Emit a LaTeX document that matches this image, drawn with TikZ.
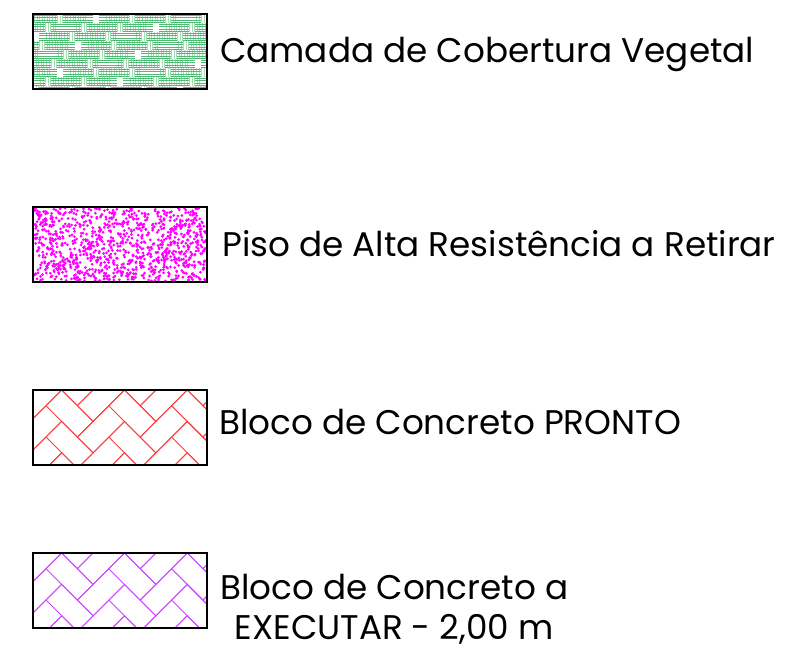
\documentclass[tikz,border=0pt]{standalone}
\usepackage{fontspec}
\setmainfont{Poppins}
\usepackage{xcolor}

\definecolor{hatchgreen}{RGB}{80,185,115}
\definecolor{hatchlight}{RGB}{165,222,180}
\definecolor{dotpink}{RGB}{255,0,255}
\definecolor{brickred}{RGB}{255,60,60}
\definecolor{brickviolet}{RGB}{205,70,255}

% herringbone fill of one legend box, #1 = top edge, #2 = colour
\newcommand{\brickfill}[2]{%
  \begin{scope}
    \clip (33,#1) rectangle (207,#1+75);
    \begin{scope}[shift={(61.7,#1)}, rotate=-45, scale=22.2]
      \foreach \i in {-9,...,9}
        \foreach \j in {-5,...,5}
          \draw[brick, #2] (\i+2*\j,\i-2*\j) rectangle ++(2,1)
                           (\i+2*\j,\i-2*\j+1) rectangle ++(1,2);
    \end{scope}
  \end{scope}}

\begin{document}
\begin{tikzpicture}[x=1pt, y=-1pt,
    frame/.style={line width=2},
    brick/.style={line width=0.9},
    legendtext/.style={font=\fontsize{34.2}{40}\selectfont, inner sep=0}]
	\useasboundingbox (0,0) rectangle (796,651);

	% vegetal cover: woven hatch
	\begin{scope}
		\clip (33,14) rectangle (207,89);
		\foreach \r in {0,...,8}
			\foreach \c in {0,...,12} {
				\pgfmathsetmacro\xo{33+(\c-2)*18+mod(\r,3)*6}
				\pgfmathsetmacro\yo{14+\r*9}
				\pgfmathtruncatemacro\gap{mod(2*\r+\c,5)}
				\ifnum\gap>0
					\foreach \k in {1.5,4,...,16.5}
						\draw[hatchlight, line width=0.8] (\xo+\k,\yo) -- (\xo+\k,\yo+9);
				\fi
			}
		\foreach \r in {0,...,8}
			\foreach \c in {0,...,12} {
				\pgfmathsetmacro\xo{33+(\c-2)*18+mod(\r,3)*6}
				\pgfmathsetmacro\yo{14+\r*9}
				\pgfmathtruncatemacro\kind{mod(\r+\c,2)}
				\ifnum\kind=0
					\foreach \k in {1,3.5,6,8.5}
						\draw[hatchgreen, line width=0.8] (\xo-6,\yo+\k) -- (\xo+24,\yo+\k);
				\fi
			}
	\end{scope}
	\draw[frame] (33,14) rectangle (207,89);

	% high resistance floor: dots
	\begin{scope}
		\clip (33,207) rectangle (207,282);
		\pgfmathsetseed{4711}
		\foreach \k in {1,...,1100} {
			\pgfmathsetmacro\dx{34+172*rnd}
			\pgfmathsetmacro\dy{208+73*rnd}
			\fill[dotpink] (\dx,\dy) circle (1.5);
		}
	\end{scope}
	\draw[frame] (33,207) rectangle (207,282);

	% concrete blocks
	\brickfill{390}{brickred}
	\draw[frame] (33,390) rectangle (207,465);
	\brickfill{553}{brickviolet}
	\draw[frame] (33,553) rectangle (207,628);

	\node[legendtext, anchor=base west] (veg) at (220,62) {Camada de Cobertura Vegetal};
	\node[legendtext, anchor=base west] (piso) at (222,256) {Piso de Alta Resistência a Retirar};
	\node[legendtext, anchor=base west] (pronto) at (219,434) {Bloco de Concreto PRONTO};
	\node[legendtext, anchor=base west] (exec) at (220,599) {Bloco de Concreto a};
	\node[legendtext, anchor=base] (execb) at ([yshift=-40pt]exec.base) {EXECUTAR - 2,00 m};
\end{tikzpicture}
\end{document}
